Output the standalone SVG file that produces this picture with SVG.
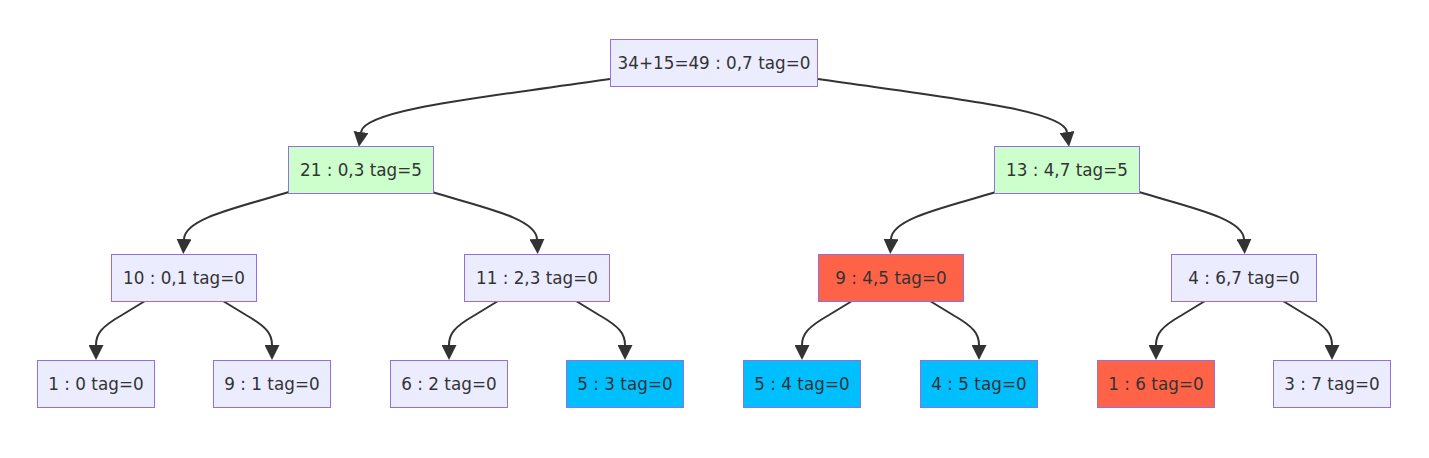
<svg xmlns="http://www.w3.org/2000/svg" width="1429" height="458" viewBox="0 0 1429 458">
<style>
.n rect{fill:#ECECFF;stroke:#9370DB;stroke-width:1}
.g rect{fill:#CCFFCC}
.r rect{fill:#FF6347}
.b rect{fill:#00BFFF}
.n text{font-family:"DejaVu Sans",Verdana,sans-serif;font-size:16.8px;fill:#333;text-anchor:middle}
.e path{fill:none;stroke:#333;stroke-width:2;marker-end:url(#arr)}
</style>
<defs>
<marker id="arr" viewBox="0 0 10 10" refX="0" refY="5" markerWidth="15" markerHeight="15" markerUnits="userSpaceOnUse" orient="auto">
<path d="M0,0 L10,5 L0,10 z" fill="#333"/>
</marker>
</defs>
<rect width="1429" height="458" fill="#fff"/>
<g class="e" id="edges">
<path d="M610,79 C478,98 364,110 361,132"/>
<path d="M818,79 C950,98 1064,110 1067,132"/>
<path d="M289,192 C240,207 185,218 184,239"/>
<path d="M432,192 C481,207 536,218 537,239"/>
<path d="M996,192 C947,207 892,218 891,239"/>
<path d="M1139,192 C1188,207 1243,218 1244,239"/>
<path d="M145,301 L122,315 C101,327 96,334 96,345"/>
<path d="M223,301 L246,315 C267,327 272,334 272,345"/>
<path d="M498,301 L475,315 C454,327 449,334 449,345"/>
<path d="M576,301 L599,315 C620,327 625,334 625,345"/>
<path d="M852,301 L829,315 C808,327 802,334 802,345"/>
<path d="M930,301 L953,315 C974,327 979,334 979,345"/>
<path d="M1205,301 L1182,315 C1161,327 1156,334 1156,345"/>
<path d="M1283,301 L1306,315 C1327,327 1332,334 1332,345"/>
</g>
<g class="n" id="root"><rect x="610.5" y="39.5" width="207" height="47"/><text x="714" y="69">34+15=49 : 0,7 tag=0</text></g>
<g class="n g" id="n03"><rect x="288.5" y="146.5" width="145" height="47"/><text x="361" y="176">21 : 0,3 tag=5</text></g>
<g class="n g" id="n47"><rect x="994.5" y="146.5" width="145" height="47"/><text x="1067" y="176">13 : 4,7 tag=5</text></g>
<g class="n" id="n01"><rect x="111.5" y="254.5" width="145" height="47"/><text x="184" y="284">10 : 0,1 tag=0</text></g>
<g class="n" id="n23"><rect x="464.5" y="254.5" width="145" height="47"/><text x="537" y="284">11 : 2,3 tag=0</text></g>
<g class="n r" id="n45"><rect x="818.5" y="254.5" width="145" height="47"/><text x="891" y="284">9 : 4,5 tag=0</text></g>
<g class="n" id="n67"><rect x="1171.5" y="254.5" width="145" height="47"/><text x="1244" y="284">4 : 6,7 tag=0</text></g>
<g class="n" id="l0"><rect x="37.5" y="360.5" width="117" height="47"/><text x="96" y="390">1 : 0 tag=0</text></g>
<g class="n" id="l1"><rect x="213.5" y="360.5" width="117" height="47"/><text x="272" y="390">9 : 1 tag=0</text></g>
<g class="n" id="l2"><rect x="390.5" y="360.5" width="117" height="47"/><text x="449" y="390">6 : 2 tag=0</text></g>
<g class="n b" id="l3"><rect x="566.5" y="360.5" width="117" height="47"/><text x="625" y="390">5 : 3 tag=0</text></g>
<g class="n b" id="l4"><rect x="743.5" y="360.5" width="117" height="47"/><text x="802" y="390">5 : 4 tag=0</text></g>
<g class="n b" id="l5"><rect x="920.5" y="360.5" width="117" height="47"/><text x="979" y="390">4 : 5 tag=0</text></g>
<g class="n r" id="l6"><rect x="1097.5" y="360.5" width="117" height="47"/><text x="1156" y="390">1 : 6 tag=0</text></g>
<g class="n" id="l7"><rect x="1273.5" y="360.5" width="117" height="47"/><text x="1332" y="390">3 : 7 tag=0</text></g>
</svg>
